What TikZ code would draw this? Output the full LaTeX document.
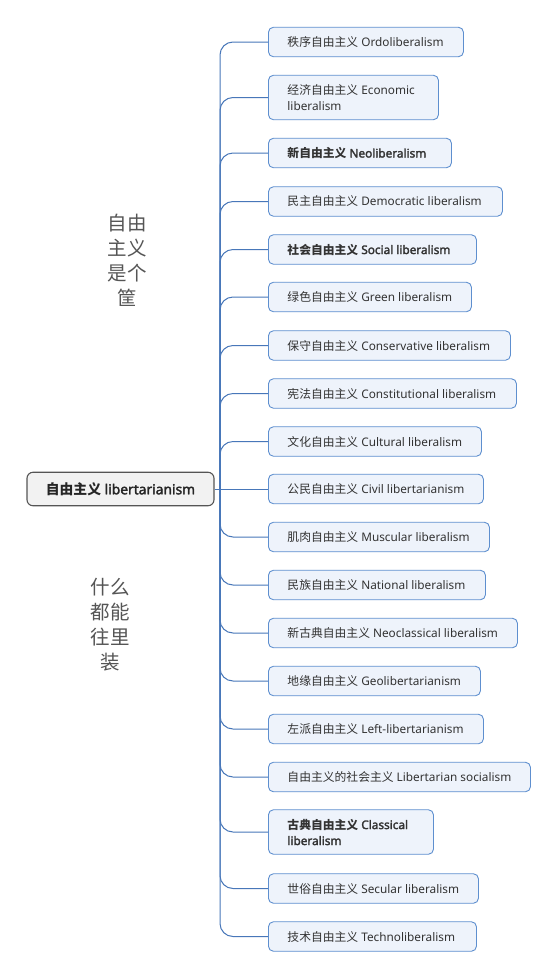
\documentclass[tikz,border=0pt]{standalone}
\usepackage{fontspec}
\setmainfont{Noto Sans}[BoldFont={Noto Sans}, BoldFeatures={FakeBold=2.2}]
\newfontfamily\cjk{Noto Sans CJK SC}
\newcommand\zh[1]{{\cjk #1}}
\newcommand\kt[2]{\makebox[#1][l]{#2}}
\definecolor{kidfill}{HTML}{EEF3FB}
\definecolor{kidborder}{HTML}{5E8FCF}
\definecolor{linec}{HTML}{4877B9}
\definecolor{rootfill}{HTML}{F2F2F2}
\definecolor{rootborder}{HTML}{555555}
\definecolor{textc}{HTML}{333333}
\definecolor{sidec}{HTML}{555555}
\tikzset{
  kid/.style={draw=kidborder, fill=kidfill, rounded corners=5pt, line width=0.9pt,
    anchor=west, minimum height=29.5pt, inner xsep=19pt, inner ysep=0pt,
    font=\fontsize{11.8}{16}\selectfont, text=textc},
  kidtwo/.style={kid, minimum height=44.5pt},
  rootbox/.style={draw=rootborder, fill=rootfill, rounded corners=6pt, line width=1.1pt,
    minimum width=187pt, minimum height=33.5pt, inner sep=0pt,
    font=\fontsize{13.8}{16}\selectfont\bfseries, text=black!85},
  branch/.style={draw=linec, line width=1pt, rounded corners=13pt},
  side/.style={font=\cjk\fontsize{19.5}{25}\selectfont, text=sidec, align=center, inner sep=0pt}
}
\begin{document}
\begin{tikzpicture}[x=1pt,y=-1pt]
\useasboundingbox[fill=white] (0,0) rectangle (557,978);

\node[side] (s1) at (127,260) {自由\\主义\\是个\\筐};
\node[side] (s2) at (110,624.5) {什么\\都能\\往里\\装};

\node[rootbox] (root) at (120.5,489) {\zh{自由主义} libertarianism};
\coordinate (j) at (220,489);

\node[kid] (n1) at (268,42) {\kt{157pt}{\zh{秩序自由主义} Ordoliberalism}};
\node[kidtwo] (n2) at (268,97.5) {\parbox{132pt}{\raggedright\zh{经济自由主义} Economic\\liberalism}};
\node[kid] (n3) at (268,153) {\kt{145pt}{\bfseries\zh{新自由主义} Neoliberalism}};
\node[kid] (n4) at (268,201.5) {\kt{196pt}{\zh{民主自由主义} Democratic liberalism}};
\node[kid] (n5) at (268,249.5) {\kt{170pt}{\bfseries\zh{社会自由主义} Social liberalism}};
\node[kid] (n6) at (268,297) {\kt{165pt}{\zh{绿色自由主义} Green liberalism}};
\node[kid] (n7) at (268,345.5) {\kt{204pt}{\zh{保守自由主义} Conservative liberalism}};
\node[kid] (n8) at (268,393.5) {\kt{210pt}{\zh{宪法自由主义} Constitutional liberalism}};
\node[kid] (n9) at (268,441.5) {\kt{175pt}{\zh{文化自由主义} Cultural liberalism}};
\node[kid] (n10) at (268,489) {\kt{177pt}{\zh{公民自由主义} Civil libertarianism}};
\node[kid] (n11) at (268,537) {\kt{183pt}{\zh{肌肉自由主义} Muscular liberalism}};
\node[kid] (n12) at (268,585) {\kt{179pt}{\zh{民族自由主义} National liberalism}};
\node[kid] (n13) at (268,633) {\kt{211pt}{\zh{新古典自由主义} Neoclassical liberalism}};
\node[kid] (n14) at (268,681) {\kt{174pt}{\zh{地缘自由主义} Geolibertarianism}};
\node[kid] (n15) at (268,729) {\kt{177pt}{\zh{左派自由主义} Left-libertarianism}};
\node[kid] (n16) at (268,777) {\kt{224pt}{\zh{自由主义的社会主义} Libertarian socialism}};
\node[kidtwo] (n17) at (268,832) {\parbox{127pt}{\raggedright\bfseries\zh{古典自由主义} Classical\\liberalism}};
\node[kid] (n18) at (268,888.5) {\kt{172pt}{\zh{世俗自由主义} Secular liberalism}};
\node[kid] (n19) at (268,936.5) {\kt{170pt}{\zh{技术自由主义} Technoliberalism}};

\draw[branch] (root.east) -- (j);
\draw[branch] (j) -- (n10.west);
\foreach \n in {n1,n2,n3,n4,n5,n6,n7,n8,n9,n11,n12,n13,n14,n15,n16,n17,n18,n19}
  \draw[branch] (j) |- (\n.west);
\end{tikzpicture}
\end{document}
